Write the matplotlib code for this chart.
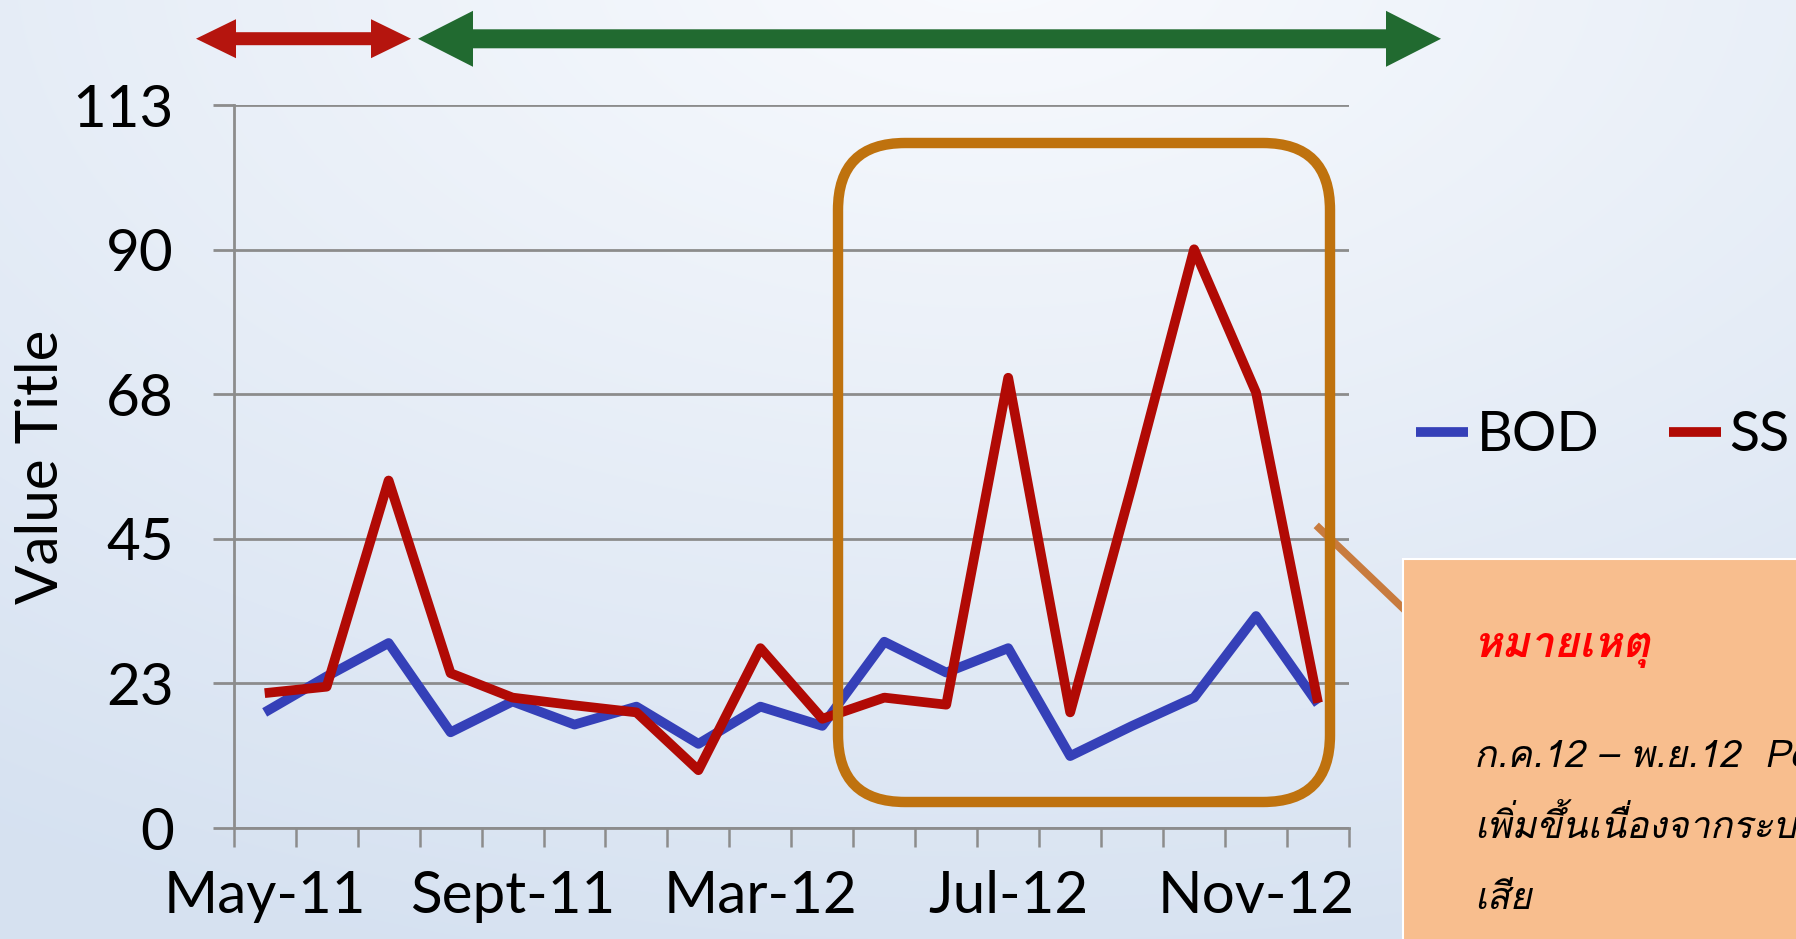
import numpy as np
import matplotlib
matplotlib.use('Agg')
import matplotlib.pyplot as plt
from matplotlib import font_manager
from matplotlib.ft2font import FT2Font
from matplotlib.patches import FancyBboxPatch, Polygon, Rectangle
from matplotlib.lines import Line2D

# ข้อมูล (อ่านจากกราฟ)
categories = ['May-11', 'Jun-11', 'Jul-11', 'Aug-11', 'Sept-11', 'Oct-11', 'Nov-11', 'Jan-12',
              'Mar-12', 'Apr-12', 'May-12', 'Jun-12', 'Jul-12', 'Aug-12', 'Sep-12', 'Oct-12',
              'Nov-12', 'Dec-12']
bod = [18.0, 23.6, 28.8, 14.9, 19.7, 16.1, 18.9, 13.1, 18.9, 15.9,
       29.0, 24.2, 28.0, 11.2, 15.9, 20.3, 33.0, 19.3]
ss = [21.0, 22.0, 54.1, 24.1, 20.3, 19.1, 18.0, 9.0, 28.0, 17.0,
      20.3, 19.2, 70.1, 18.0, 53.4, 90.1, 67.8, 19.5]
yticks = [0, 22.5, 45, 67.5, 90, 112.5]
ytick_labels = ['0', '23', '45', '68', '90', '113']
shown_every = 4

note_title = 'หมายเหตุ'
note_lines = ['ก.ค.12 – พ.ย.12  Pond 1 SS', 'เพิ่มขึ้นเนื่องจากระบบเติมอากาศ', 'เสีย']


def find_font(ch):
    for f in font_manager.fontManager.ttflist:
        try:
            if ord(ch) in FT2Font(f.fname).get_charmap():
                return f.name
        except Exception:
            pass
    return 'DejaVu Sans'


thai_font = find_font('ห')
plt.rcParams['font.family'] = ['Lato', 'DejaVu Sans']

W, H = 1796, 939
fig = plt.figure(figsize=(W / 100, H / 100), dpi=100)

# fondo degradado
bg = fig.add_axes([0, 0, 1, 1], zorder=-10)
yy, xx = np.mgrid[0:H, 0:W]
d = np.sqrt(((xx - 0.55 * W) / W) ** 2 + ((yy + 0.05 * H) / H * 0.9) ** 2)
t = np.clip(d / 1.0, 0, 1)[..., None]
c0 = np.array([0.975, 0.982, 0.995])
c1 = np.array([0.84, 0.885, 0.945])
bg.imshow(c0 * (1 - t) + c1 * t, aspect='auto')
bg.axis('off')

def px(x, y):
    return x / W, 1 - y / H

ax = fig.add_axes([233.7 / W, 111 / H, (1349 - 233.7) / W, (828 - 105.4) / H])
ax.set_facecolor('none')
x = np.arange(len(categories))
ax.plot(x, bod, color='#3540B8', lw=7, label='BOD', solid_joinstyle='round',
        solid_capstyle='butt', clip_on=False)
ax.plot(x, ss, color='#B10A05', lw=7, label='SS', solid_joinstyle='round',
        solid_capstyle='butt', clip_on=False)

ax.set_xlim(-0.5, len(categories) - 0.5)
ax.set_ylim(0, 112.5)
ax.set_yticks(yticks)
ax.set_yticklabels(ytick_labels)
ax.yaxis.grid(True, color='#8C8C8C', lw=2)
ax.set_axisbelow(True)
for s in ['top', 'right']:
    ax.spines[s].set_visible(False)
for s in ['left', 'bottom']:
    ax.spines[s].set_color('#8C8C8C')
    ax.spines[s].set_linewidth(2)
ax.tick_params(axis='y', length=15, width=2, color='#8C8C8C', pad=28, labelsize=42)
ax.set_xticks(np.arange(-0.5, len(categories), 1))
ax.set_xticklabels([])
ax.set_xticks(x[::shown_every], minor=True)
ax.set_xticklabels(categories[::shown_every], minor=True)
ax.tick_params(axis='x', which='major', length=14, width=1.8, color='#8C8C8C')
ax.tick_params(axis='x', which='minor', length=0, pad=30, labelsize=42)

fig.text(42 / W, 1 - 467 / H, 'Value Title', rotation=90, ha='center', va='center', fontsize=42)

leg = ax.legend(loc='center left', bbox_to_anchor=px(1416, 436), bbox_transform=fig.transFigure,
                ncol=2, frameon=False, fontsize=40, handlelength=0.94, handletextpad=0.15,
                columnspacing=1.25, borderpad=0, borderaxespad=0)

# caja redondeada
bx0, by0 = px(838, 802)
bx1, by1 = px(1330, 143)
r = 67 / W
fig.patches.append(FancyBboxPatch((bx0 + r, by0 + r * W / H), bx1 - bx0 - 2 * r, by1 - by0 - 2 * r * W / H,
                                  boxstyle='round,pad=%f,rounding_size=%f' % (r, r),
                                  mutation_aspect=W / H, transform=fig.transFigure,
                                  fill=False, edgecolor='#BF720E', lw=7.5, zorder=5))

# línea de llamada
fig.add_artist(Line2D([1319 / W, 1408 / W], [1 - 528 / H, 1 - 613 / H], transform=fig.transFigure,
                      color='#C87B3E', lw=5.5, zorder=4))

# cuadro de nota
fig.patches.append(Rectangle(px(1403, 960), (W - 1403 + 10) / W, (960 - 559) / H,
                             transform=fig.transFigure, facecolor='#F8BE8E', edgecolor='white',
                             lw=1.5, zorder=4))
fig.text(1474 / W, 1 - 657 / H, note_title, color='#FF0000', fontsize=31, fontweight='bold',
         fontstyle='italic', family=[thai_font, 'DejaVu Sans'], va='baseline', zorder=6)
for i, line in enumerate(note_lines):
    fig.text(1474 / W, 1 - (767 + 71 * i) / H, line, color='black', fontsize=27, fontstyle='italic',
             family=[thai_font, 'DejaVu Sans'], va='baseline', zorder=6)

# flechas dobles
def double_arrow(x0, x1, yc, head_len, head_h, shaft_h, color):
    pts = [(x0, yc), (x0 + head_len, yc - head_h / 2), (x0 + head_len, yc - shaft_h / 2),
           (x1 - head_len, yc - shaft_h / 2), (x1 - head_len, yc - head_h / 2), (x1, yc),
           (x1 - head_len, yc + head_h / 2), (x1 - head_len, yc + shaft_h / 2),
           (x0 + head_len, yc + shaft_h / 2), (x0 + head_len, yc + head_h / 2)]
    fig.patches.append(Polygon([px(a, b) for a, b in pts], closed=True, transform=fig.transFigure,
                               facecolor=color, edgecolor='none'))

double_arrow(196, 411, 38.7, 40, 39, 13, '#B5150E')
double_arrow(418, 1441, 38.8, 55, 56, 19, '#216A30')

plt.savefig('out.png', dpi=100)
